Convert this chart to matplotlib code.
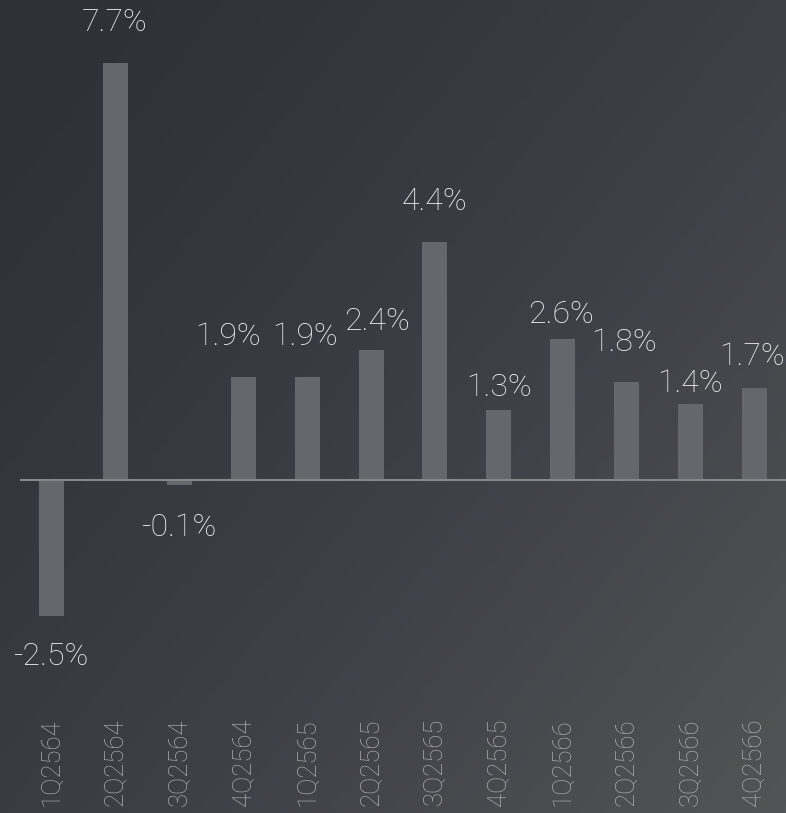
import numpy as np
import matplotlib
matplotlib.use("Agg")
import matplotlib.pyplot as plt
from matplotlib.colors import LinearSegmentedColormap

quarters = ["1Q2564", "2Q2564", "3Q2564", "4Q2564",
            "1Q2565", "2Q2565", "3Q2565", "4Q2565",
            "1Q2566", "2Q2566", "3Q2566", "4Q2566"]
growth = [-2.5, 7.7, -0.1, 1.9, 1.9, 2.4, 4.4, 1.3, 2.6, 1.8, 1.4, 1.7]
labels = ["-2.5%", "7.7%", "-0.1%", "1.9%", "1.9%", "2.4%",
          "4.4%", "1.3%", "2.6%", "1.8%", "1.4%", "1.7%"]
# label nudges in pixels (dx, distance from bar end)
label_dx = [-1, -1, -1, -15, -2, 6, 0, 0, -2, -2, 0, -2]
label_gap = [41, 40, 42, 41, 41, 28, 40, 22, 25, 40, 21, 31]

font = ["Roboto", "DejaVu Sans"]

fig = plt.figure(figsize=(7.86, 8.13), dpi=100)

# diagonal gradient background
bg = fig.add_axes([0, 0, 1, 1], zorder=0)
bg.axis("off")
yy, xx = np.mgrid[0:1:200j, 0:1:200j]
t = (xx * 0.55 + yy * 0.45) ** 1.3
cmap = LinearSegmentedColormap.from_list("bg", ["#2d3037", "#3e4147", "#535456"])
bg.imshow(t, cmap=cmap, aspect="auto", extent=[0, 1, 0, 1], origin="upper")

ax = fig.add_axes([20 / 786, 95 / 813, 766 / 786, 718 / 813], zorder=1)
ax.patch.set_alpha(0)
x = np.arange(len(quarters))
ax.bar(x, growth, width=0.39, color="#64676c")
ax.axhline(0, color="#85878b", lw=1.5)
ax.set_xlim(-0.5, 11.5)
ax.set_ylim(-4.391, 8.856)

for i, v in enumerate(growth):
    gap = label_gap[i] if v >= 0 else -label_gap[i]
    ax.annotate(labels[i], (x[i], v), xytext=(label_dx[i], gap),
                textcoords="offset pixels", ha="center", va="center",
                color="#f2f2f2", fontsize=23, fontweight="light",
                family=font, annotation_clip=False)

ax.set_xticks(x)
ax.set_xticklabels(quarters, rotation=90, color="#a9abae", fontsize=18.5,
                   fontweight="light", family=font)
ax.tick_params(axis="x", length=0, pad=0)
ax.set_yticks([])
for s in ax.spines.values():
    s.set_visible(False)

fig.savefig("out.png", dpi=100)
